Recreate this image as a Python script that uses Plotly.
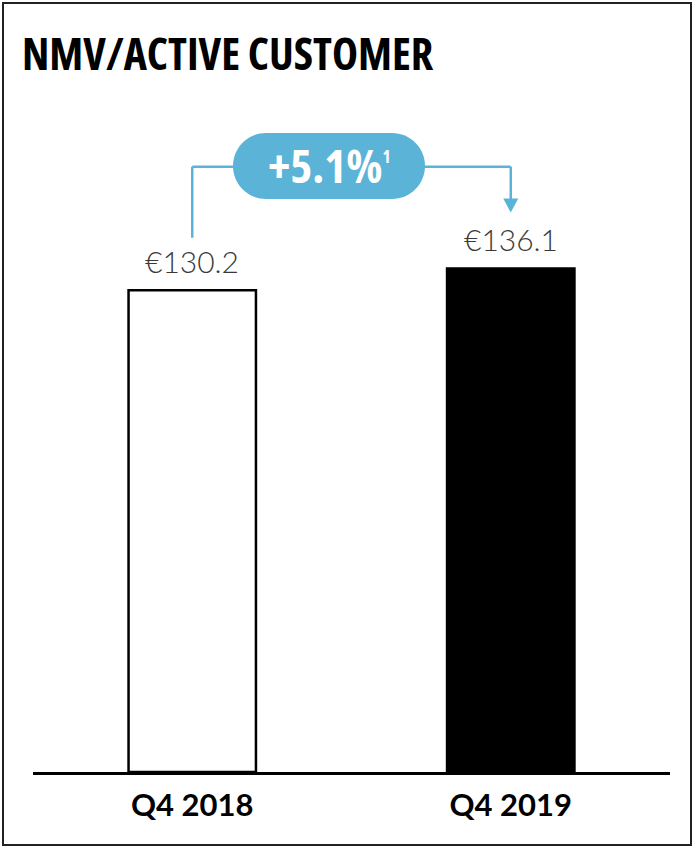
import plotly.graph_objects as go

# Chart data
categories = ["Q4 2018", "Q4 2019"]
values = [130.2, 136.1]
value_labels = ["€130.2", "€136.1"]
growth_text = "+5.1%"
growth_note = "1"
title_text = "NMV/ACTIVE CUSTOMER"

W, H = 693, 847
ACCENT = "#5BB4D8"
PX_PER_UNIT = 3.70          # vertical scale of the value axis
PLOT_LEFT, PLOT_RIGHT = 33, 670
PLOT_BOTTOM = 772
CONDENSED = "Open Sans"


def fx(px):
    return px / W


def fy(px):
    return 1 - px / H


def condensed(text):
    return f"<span style='font-stretch:condensed'>{text}</span>"


y_max = PLOT_BOTTOM / PX_PER_UNIT

fig = go.Figure()
fig.add_trace(go.Bar(
    x=categories,
    y=values,
    width=0.4,
    marker=dict(color=["white", "black"],
                line=dict(color="black", width=2.5)),
    hoverinfo="skip",
))

# value labels above each bar
for cat, v, lab in zip(categories, values, value_labels):
    fig.add_annotation(x=cat, y=v, text=lab, showarrow=False,
                       yanchor="bottom", yshift=9,
                       font=dict(family="Lato", size=30, weight=300, color="#3a3a3a"))

# bracket from the first bar to the second bar, broken by the growth pill
bracket_y = 163.6
left_bottom = values[0] + 14.2
arrow_tip = values[1] + 15.1
line_style = dict(color=ACCENT, width=2.5)
fig.add_shape(type="line", xref="x", yref="y", x0=0, x1=0,
              y0=left_bottom, y1=bracket_y, line=line_style)
fig.add_shape(type="line", xref="x", yref="y", x0=0, x1=0.2,
              y0=bracket_y, y1=bracket_y, line=line_style)
fig.add_shape(type="line", xref="x", yref="y", x0=0.6, x1=1,
              y0=bracket_y, y1=bracket_y, line=line_style)
fig.add_shape(type="line", xref="x", yref="y", x0=1, x1=1,
              y0=bracket_y, y1=arrow_tip + 3, line=line_style)
# arrow head (pixel-sized, anchored at the tip)
fig.add_shape(type="path", xref="x", yref="y", xsizemode="pixel", ysizemode="pixel",
              xanchor=1, yanchor=arrow_tip,
              path="M -7.5 14 L 7.5 14 L 0 0 Z",
              fillcolor=ACCENT, line=dict(width=0))

# growth pill (rounded ends drawn with bezier curves)
pill_cx = 0.4294
r = 33
half = 96 - r
k = 0.5523 * r
pill_path = (f"M {-half} {r} L {half} {r} "
             f"C {half + k} {r} {half + r} {k} {half + r} 0 "
             f"C {half + r} {-k} {half + k} {-r} {half} {-r} "
             f"L {-half} {-r} "
             f"C {-half - k} {-r} {-half - r} {-k} {-half - r} 0 "
             f"C {-half - r} {k} {-half - k} {r} {-half} {r} Z")
fig.add_shape(type="path", xref="x", yref="y", xsizemode="pixel", ysizemode="pixel",
              xanchor=pill_cx, yanchor=bracket_y + 0.2, path=pill_path,
              fillcolor=ACCENT, line=dict(width=0), layer="above")
fig.add_annotation(x=pill_cx, y=bracket_y + 0.2,
                   text=condensed(f"{growth_text}<sup><span style='font-size:17px'>{growth_note}</span></sup>"),
                   showarrow=False, xanchor="center", yanchor="middle", yshift=1,
                   font=dict(family=CONDENSED, size=47, weight="bold", color="white"))

# title
fig.add_annotation(xref="paper", yref="paper", x=fx(20), y=fy(53), text=condensed(title_text),
                   showarrow=False, xanchor="left", yanchor="middle",
                   font=dict(family=CONDENSED, size=44, weight="bold", color="black"))

# outer frame
fig.add_shape(type="rect", xref="paper", yref="paper",
              x0=fx(3), x1=fx(691), y0=fy(845), y1=fy(3),
              line=dict(color="#222222", width=2), fillcolor="rgba(0,0,0,0)")

fig.update_layout(
    width=W, height=H,
    margin=dict(l=0, r=0, t=0, b=0),
    paper_bgcolor="white", plot_bgcolor="white",
    showlegend=False,
    xaxis=dict(domain=[fx(PLOT_LEFT), fx(PLOT_RIGHT)], range=[-0.5, 1.5],
               showline=True, linecolor="black", linewidth=2.5,
               showgrid=False, zeroline=False, ticks="",
               tickfont=dict(family="Lato", size=31, weight="bold", color="black"),
               ticklabelstandoff=4, fixedrange=True),
    yaxis=dict(domain=[fy(PLOT_BOTTOM), 1], range=[0, y_max],
               visible=False, showgrid=False, zeroline=False, fixedrange=True),
)

fig.write_html("out.html")
